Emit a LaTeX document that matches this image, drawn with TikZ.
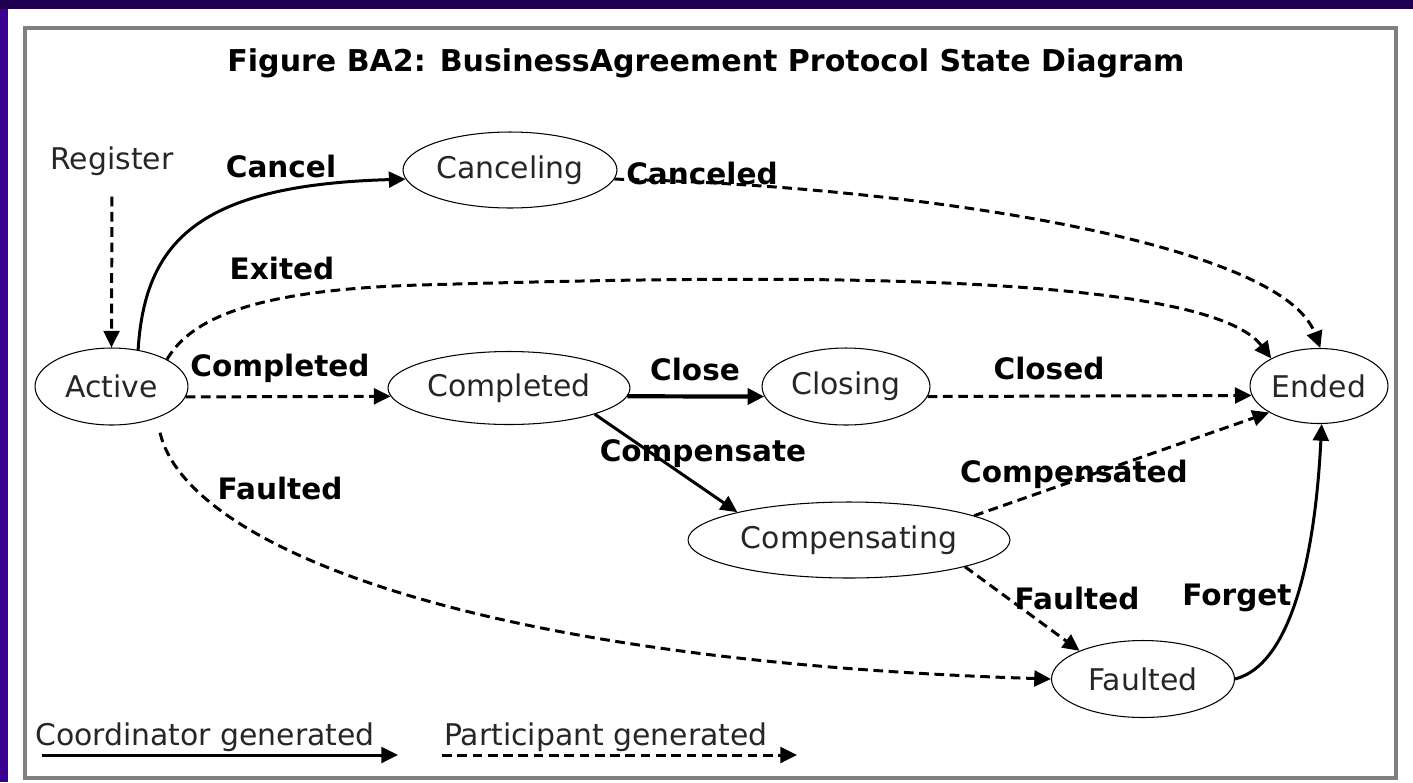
\documentclass[tikz,border=0pt]{standalone}
\usepackage{fontspec}
\setmainfont{DejaVu Sans}
\usetikzlibrary{shapes.geometric,arrows.meta}
\definecolor{topband}{HTML}{1E0050}
\definecolor{sideband}{HTML}{3A0090}
\begin{document}
\begin{tikzpicture}[x=0.02cm, y=-0.02cm,
  every node/.style={font=\fontsize{17}{19}\selectfont, text=black!85},
  state/.style={draw, ellipse, line width=0.6pt, inner sep=0pt},
  lbl/.style={font=\fontsize{16.8}{19}\selectfont\bfseries, text=black},
  coord/.style={line width=1.7pt, -{Triangle[length=9.5pt,width=9pt]}},
  part/.style={coord, dash pattern=on 5.5pt off 3.2pt}]
\useasboundingbox (0,0) rectangle (1413,782);
\fill[white] (0,0) rectangle (1413,782);
\fill[sideband] (0,0) rectangle (8,782);
\fill[topband] (0,0) rectangle (1413,9);
\draw[gray, line width=2.2pt] (25,28) rectangle (1396,778);
\node[lbl, font=\fontsize{17.1}{19}\selectfont\bfseries] (title) at (706,63) {Figure BA2: BusinessAgreement Protocol State Diagram};
% states
\node (register) at (112,161) {Register};
\node[state, minimum width=3.06cm, minimum height=1.54cm] (active) at (111.5,386.5) {Active};
\node[state, minimum width=4.28cm, minimum height=1.52cm] (canceling) at (510,170) {Canceling};
\node[state, minimum width=4.84cm, minimum height=1.46cm] (completed) at (509,388) {Completed};
\node[state, minimum width=3.36cm, minimum height=1.54cm] (closing) at (846,386.5) {Closing};
\node[state, minimum width=6.44cm, minimum height=1.52cm] (compensating) at (849,540) {Compensating};
\node[state, minimum width=2.76cm, minimum height=1.50cm] (ended) at (1319,386) {Ended};
\node[state, minimum width=3.66cm, minimum height=1.54cm] (faulted) at (1143,679) {Faulted};
% labels
\node[lbl] (lcancel) at (281,166) {Cancel};
\node[lbl] (lcanceled) at (702,173) {Canceled};
\node[lbl] (lexited) at (282,268) {Exited};
\node[lbl] (lcompleted) at (280,368) {Completed};
\node[lbl] (lclose) at (695,369) {Close};
\node[lbl] (lclosed) at (1049,368) {Closed};
\node[lbl] (lcompensate) at (703,454) {Compensate};
\node[lbl] (lcompensated) at (1074,474) {Compensated};
\node[lbl] (lfaultedA) at (280,488) {Faulted};
\node[lbl] (lfaultedB) at (1077,598) {Faulted};
\node[lbl] (lforget) at (1237,598) {Forget};
% transitions
\draw[part, shorten <=3mm] (register.south) -- (active.north);
\draw[coord] (active.54) .. controls (145,240) and (200,185) .. (canceling.185);
\draw[part] (canceling.-5) .. controls (900,185) and (1280,240) .. (ended.88);
\draw[part] (active.26) .. controls (190,320) and (250,290) .. (420,285)
  .. controls (700,277) and (1200,265) .. (ended.150);
\draw[part] (active.-8) -- (completed.184);
\draw[coord, line width=2.4pt] (completed.-4) -- (closing.187);
\draw[part] (closing.-7) -- (ended.188);
\draw[coord] (completed.-17) -- (compensating.166);
\draw[part] (compensating.11) -- (ended.208);
\draw[part] (compensating.-13) -- (faulted.156);
\draw[part, shorten <=3mm] (active.-35) .. controls (185,540) and (450,660) .. (faulted.west);
\draw[coord] (faulted.east) .. controls (1290,665) and (1315,560) .. (ended.-86);
% legend
\node (lcoord) at (205,737) {Coordinator generated};
\node (lpart) at (606,737) {Participant generated};
\coordinate (c1) at (42,755);
\coordinate (c2) at (398,755);
\coordinate (p1) at (442,755);
\coordinate (p2) at (797,755);
\draw[coord] (c1) -- (c2);
\draw[part] (p1) -- (p2);
\end{tikzpicture}
\end{document}
